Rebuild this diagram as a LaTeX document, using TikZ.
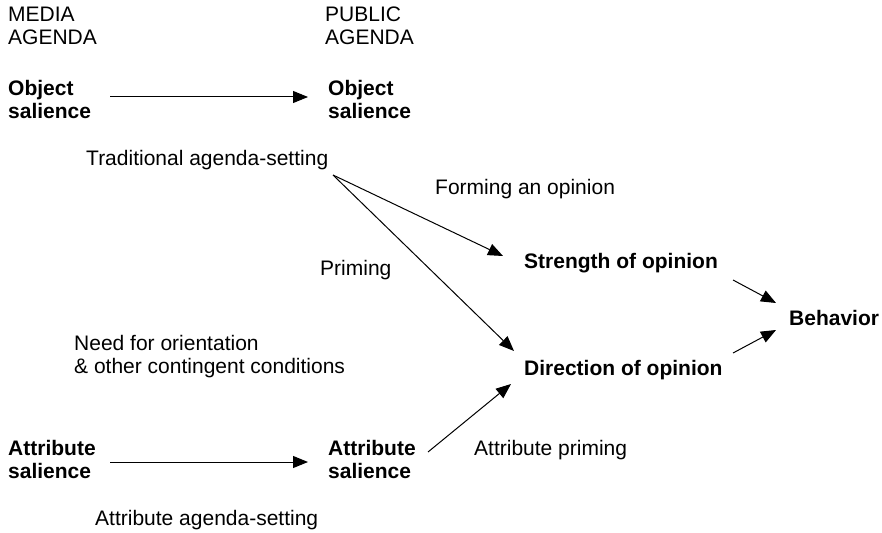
\documentclass[tikz,border=0pt]{standalone}
\usepackage{fontspec}
\setmainfont{Liberation Sans}
\usetikzlibrary{arrows.meta}
\tikzset{
  lbl/.style={inner sep=0pt, anchor=base west, align=left, font=\fontsize{21}{23}\selectfont},
  bld/.style={lbl, font=\fontsize{21}{23}\selectfont\bfseries},
  conn/.style={line width=1pt, -{Triangle[length=15pt,width=12pt]}}
}
\begin{document}
\begin{tikzpicture}[x=1pt,y=-1pt]
\useasboundingbox (0,0) rectangle (882,532);
\node[lbl] (media) at (8,45) {MEDIA\\AGENDA};
\node[lbl] (public) at (325,45) {PUBLIC\\AGENDA};
\node[bld] (objL) at (8,118) {Object\\salience};
\node[bld] (objR) at (328,118) {Object\\salience};
\node[lbl] (trad) at (86,165) {Traditional agenda-setting};
\node[lbl] (form) at (435,194) {Forming an opinion};
\node[bld] (str) at (524,268) {Strength of opinion};
\node[lbl] (prim) at (320,275) {Priming};
\node[bld] (beh) at (789,325) {Behavior};
\node[lbl] (need) at (74,373) {Need for orientation\\\& other contingent conditions};
\node[bld] (dir) at (524,375) {Direction of opinion};
\node[bld] (attL) at (8,478) {Attribute\\salience};
\node[bld] (attR) at (328,478) {Attribute\\salience};
\node[lbl] (attp) at (474,455) {Attribute priming};
\node[lbl] (atta) at (95,525) {Attribute agenda-setting};

\coordinate (objA) at (110,97);
\coordinate (objB) at (308,97);
\coordinate (fan) at (333,175);
\coordinate (strIn) at (503,256);
\coordinate (dirIn) at (514,351);
\coordinate (strOut) at (733,280);
\coordinate (behInA) at (776,303);
\coordinate (dirOut) at (733,353);
\coordinate (behInB) at (776,330);
\coordinate (attA) at (110,462);
\coordinate (attB) at (308,462);
\coordinate (attOut) at (428,452);
\coordinate (dirInB) at (511,384);

\draw[conn] (objA) -- (objB);
\draw[conn] (fan) -- (strIn);
\draw[conn] (fan) -- (dirIn);
\draw[conn] (strOut) -- (behInA);
\draw[conn] (dirOut) -- (behInB);
\draw[conn] (attA) -- (attB);
\draw[conn] (attOut) -- (dirInB);
\end{tikzpicture}
\end{document}
